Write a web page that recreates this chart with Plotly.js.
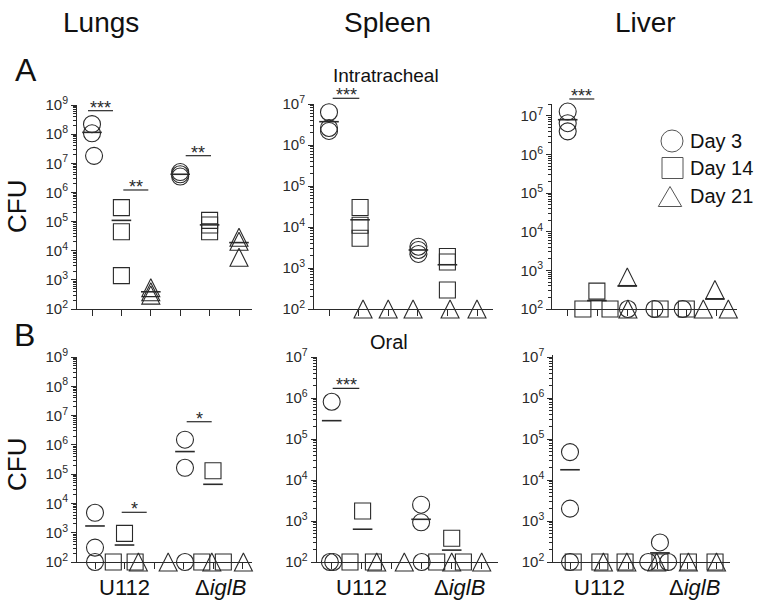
<!DOCTYPE html>
<html><head><meta charset="utf-8">
<script src="https://cdn.plot.ly/plotly-3.0.1.min.js"></script>
<style>html,body{margin:0;padding:0;background:#fff}#chart{width:758px;height:603px}</style>
</head><body><div id="chart"></div>
<script>
// ================= DATA (CFU per animal; group positions 1..6 =
// U112 D3, U112 D14, U112 D21, ΔiglB D3, ΔiglB D14, ΔiglB D21, with jitter) =================
const dayNames = ['Day 3', 'Day 14', 'Day 21'];
const strainLabels = ['U112', 'Δ<i>iglB</i>'];
const organNames = ['Lungs', 'Spleen', 'Liver'];
const routeNames = ['Intratracheal', 'Oral'];
const exponentsLungs = [2, 3, 4, 5, 6, 7, 8, 9];
const exponentsOther = [2, 3, 4, 5, 6, 7];

// A — Intratracheal — Lungs
const aLungsD3Pos = [1, 1, 1.07, 4, 4, 4];
const aLungsD3Cfu = [2.2e8, 1.07e8, 1.8e7, 5e6, 4.2e6, 3.5e6];
const aLungsD14Pos = [2, 2, 2, 5, 5, 5];
const aLungsD14Cfu = [3e5, 4.5e4, 1.4e3, 1.1e5, 7.6e4, 4.5e4];
const aLungsD21Pos = [3, 3, 3, 6, 6, 6];
const aLungsD21Cfu = [5.4e2, 3.9e2, 3e2, 2.9e4, 2.1e4, 6e3];
const aLungsMeanPos = [1, 2, 3, 4, 5, 6];
const aLungsMeanCfu = [1.15e8, 1.1e5, 3.9e2, 4.2e6, 7.7e4, 1.9e4];

// A — Intratracheal — Spleen
const aSpleenD3Pos = [1, 1, 1, 4.02, 4.02, 4.02];
const aSpleenD3Cfu = [6.3e6, 2.6e6, 2.2e6, 3.3e3, 2.75e3, 2.2e3];
const aSpleenD14Pos = [2.05, 2.05, 2.05, 5, 5, 5];
const aSpleenD14Cfu = [3e4, 1.1e4, 5.3e3, 1.9e3, 1.4e3, 2.9e2];
const aSpleenD21Pos = [2.15, 3, 3.84, 5.09, 6];
const aSpleenD21Cfu = [100, 100, 100, 100, 100];
const aSpleenMeanPos = [1, 2.05, 4.02, 5];
const aSpleenMeanCfu = [3.7e6, 1.5e4, 2.75e3, 1.2e3];

// A — Intratracheal — Liver
const aLiverD3Pos = [1, 1, 1, 3.02, 3.91, 4.86];
const aLiverD3Cfu = [1.3e7, 6.5e6, 4e6, 100, 100, 100];
const aLiverD14Pos = [1.51, 1.98, 2.42, 4.1, 4.98];
const aLiverD14Cfu = [100, 2.9e2, 100, 100, 100];
const aLiverD21Pos = [3, 3.02, 5.55, 5.94, 6.39];
const aLiverD21Cfu = [6.7e2, 100, 100, 3.2e2, 100];
const aLiverMeanPos = [1, 1.98, 3, 5.94];
const aLiverMeanCfu = [8e6, 1.65e2, 4e2, 1.8e2];

// B — Oral — Lungs
const bLungsD3Pos = [1, 1, 1, 4.05, 4.05, 4.05];
const bLungsD3Cfu = [4.8e3, 3.1e2, 100, 1.5e6, 1.65e5, 100];
const bLungsD14Pos = [2, 1.62, 2.36, 5, 4.62, 5.35];
const bLungsD14Cfu = [9.5e2, 100, 100, 1.3e5, 100, 100];
const bLungsD21Pos = [2.47, 3.48, 4.96, 6.03];
const bLungsD21Cfu = [100, 100, 100, 100];
const bLungsMeanPos = [1, 2, 4.05, 5];
const bLungsMeanCfu = [1.7e3, 3.8e2, 5.9e5, 4.5e4];

// B — Oral — Spleen
const bSpleenD3Pos = [1, 0.94, 1.05, 3.98, 3.98, 4];
const bSpleenD3Cfu = [8.1e5, 100, 100, 2.5e3, 9.3e2, 100];
const bSpleenD14Pos = [2.03, 1.61, 2.39, 5, 4.5, 5.39];
const bSpleenD14Cfu = [1.75e3, 100, 100, 3.8e2, 100, 100];
const bSpleenD21Pos = [2.5, 3.42, 5, 6];
const bSpleenD21Cfu = [100, 100, 100, 100];
const bSpleenMeanPos = [1, 2.03, 3.98, 5];
const bSpleenMeanCfu = [2.8e5, 6.3e2, 1.1e3, 1.95e2];

// B — Oral — Liver
const bLiverD3Pos = [1, 1, 1, 4.07, 3.67, 4.35];
const bLiverD3Cfu = [4.8e4, 2e3, 100, 3e2, 100, 100];
const bLiverD14Pos = [1.11, 2.02, 2.88, 4.07, 5.04, 5.95];
const bLiverD14Cfu = [100, 100, 100, 100, 100, 100];
const bLiverD21Pos = [2.14, 2.94, 3.96, 5.04, 6];
const bLiverD21Cfu = [100, 100, 100, 100, 100];
const bLiverMeanPos = [1, 4.07];
const bLiverMeanCfu = [1.78e4, 1.67e2];

// significance labels per panel
const aLungsStars = ['***', '**', '**'];
const aSpleenStars = ['***'];
const aLiverStars = ['***'];
const bLungsStars = ['*', '*'];
const bSpleenStars = ['***'];

// ================= LAYOUT HELPERS =================
const W = 758, H = 603;
const INK = '#2a2a2a';
const FONT = 'Liberation Sans, Arial, sans-serif';
const NARROW = 'Liberation Sans Narrow, Arial Narrow, Liberation Sans, sans-serif';
const px2x = p => p / W;
const px2y = p => 1 - p / H;

const panels = [
  {xpx: [77, 252], ypx: [105, 309], g0: 92, gs: 29.4, yr: [2, 9], exps: exponentsLungs,
   d3: [aLungsD3Pos, aLungsD3Cfu], d14: [aLungsD14Pos, aLungsD14Cfu], d21: [aLungsD21Pos, aLungsD21Cfu], mean: [aLungsMeanPos, aLungsMeanCfu],
   brackets: [[0.864, 1.714, 8.805], [2.065, 2.915, 6.084], [4.187, 5.048, 7.261]], stars: aLungsStars, labels: false},
  {xpx: [314, 493], ypx: [104, 309], g0: 329, gs: 29.6, yr: [2, 7], exps: exponentsOther,
   d3: [aSpleenD3Pos, aSpleenD3Cfu], d14: [aSpleenD14Pos, aSpleenD14Cfu], d21: [aSpleenD21Pos, aSpleenD21Cfu], mean: [aSpleenMeanPos, aSpleenMeanCfu],
   brackets: [[1.125, 2.024, 7.139]], stars: aSpleenStars, labels: false},
  {xpx: [552, 737], ypx: [104, 309], g0: 567.7, gs: 29.8, yr: [2, 7.31], exps: exponentsOther,
   d3: [aLiverD3Pos, aLiverD3Cfu], d14: [aLiverD14Pos, aLiverD14Cfu], d21: [aLiverD21Pos, aLiverD21Cfu], mean: [aLiverMeanPos, aLiverMeanCfu],
   brackets: [[1.054, 1.893, 7.44]], stars: aLiverStars, labels: false},
  {xpx: [77, 252], ypx: [357, 562], g0: 95, gs: 29.5, yr: [2, 9], exps: exponentsLungs,
   d3: [bLungsD3Pos, bLungsD3Cfu], d14: [bLungsD14Pos, bLungsD14Cfu], d21: [bLungsD21Pos, bLungsD21Cfu], mean: [bLungsMeanPos, bLungsMeanCfu],
   brackets: [[1.905, 2.753, 3.697], [4.108, 4.956, 6.79]], stars: bLungsStars, labels: true},
  {xpx: [316.7, 498], ypx: [357, 562], g0: 331.7, gs: 30, yr: [2, 7], exps: exponentsOther,
   d3: [bSpleenD3Pos, bSpleenD3Cfu], d14: [bSpleenD14Pos, bSpleenD14Cfu], d21: [bSpleenD21Pos, bSpleenD21Cfu], mean: [bSpleenMeanPos, bSpleenMeanCfu],
   brackets: [[1.033, 1.92, 6.237]], stars: bSpleenStars, labels: true},
  {xpx: [553.3, 730], ypx: [355, 562], g0: 570, gs: 29.3, yr: [2, 7.05], exps: exponentsOther,
   d3: [bLiverD3Pos, bLiverD3Cfu], d14: [bLiverD14Pos, bLiverD14Cfu], d21: [bLiverD21Pos, bLiverD21Cfu], mean: [bLiverMeanPos, bLiverMeanCfu],
   brackets: [], stars: [], labels: true}
];

const traces = [];
const layout = {
  width: W, height: H, margin: {l: 0, r: 0, t: 0, b: 0},
  paper_bgcolor: '#fff', plot_bgcolor: 'rgba(0,0,0,0)',
  showlegend: false, font: {family: FONT, color: INK},
  shapes: [], annotations: []
};

const hollow = 'rgba(0,0,0,0)';
const mk = (symbol, size, extra) => Object.assign({symbol: symbol, size: size, color: hollow,
  line: {color: INK, width: 1.1}}, extra || {});

panels.forEach((p, i) => {
  const n = i + 1, sfx = n === 1 ? '' : String(n);
  const xa = 'x' + sfx, ya = 'y' + sfx;
  const xr = [1 - (p.g0 - p.xpx[0]) / p.gs, 1 + (p.xpx[1] - p.g0) / p.gs];
  const yDom = [px2y(p.ypx[1]), px2y(p.ypx[0])];
  const minorVals = [];
  for (let e = Math.floor(p.yr[0]); e < Math.ceil(p.yr[1]); e++)
    for (let m = 2; m <= 9; m++) if (Math.log10(m * Math.pow(10, e)) <= p.yr[1]) minorVals.push(m * Math.pow(10, e));
  layout['xaxis' + sfx] = {
    domain: [px2x(p.xpx[0]), px2x(p.xpx[1])], range: xr, anchor: ya,
    showgrid: false, zeroline: false, showline: true, linecolor: INK, linewidth: 1,
    tickvals: [1, 2, 3, 4, 5, 6], ticks: 'outside', ticklen: 6, tickcolor: INK, tickwidth: 1,
    showticklabels: false, fixedrange: true
  };
  layout['yaxis' + sfx] = {
    type: 'log', domain: yDom, range: p.yr, anchor: xa,
    showgrid: false, zeroline: false, showline: true, linecolor: INK, linewidth: 1,
    tickvals: p.exps.map(e => Math.pow(10, e)),
    ticktext: p.exps.map(e => '10<sup>' + e + '</sup>'),
    ticks: 'outside', ticklen: 5, tickcolor: INK, tickwidth: 1,
    tickfont: {family: FONT, size: 15, color: INK},
    minor: {tickvals: minorVals, ticks: 'outside', ticklen: 3, tickcolor: INK, tickwidth: 1, showgrid: false},
    fixedrange: true
  };
  const common = {type: 'scatter', mode: 'markers', xaxis: xa, yaxis: ya, cliponaxis: false, hoverinfo: 'skip'};
  traces.push(Object.assign({}, common, {name: dayNames[0], x: p.d3[0], y: p.d3[1], marker: mk('circle', 17)}));
  traces.push(Object.assign({}, common, {name: dayNames[1], x: p.d14[0], y: p.d14[1], marker: mk('square', 16)}));
  traces.push(Object.assign({}, common, {name: dayNames[2], x: p.d21[0], y: p.d21[1],
    marker: mk('arrow-down', 18, {angle: 180, standoff: 9})}));
  traces.push(Object.assign({}, common, {name: 'mean', x: p.mean[0], y: p.mean[1],
    marker: {symbol: 'line-ew', size: 14, color: INK, line: {color: INK, width: 1.6}}}));

  // significance brackets (x in group units, y in log10 CFU)
  p.brackets.forEach((b, k) => {
    const yPaper = yDom[0] + (b[2] - p.yr[0]) / (p.yr[1] - p.yr[0]) * (yDom[1] - yDom[0]);
    layout.shapes.push({type: 'line', xref: xa, yref: 'paper', x0: b[0], x1: b[1], y0: yPaper, y1: yPaper,
      line: {color: INK, width: 1.2}});
    layout.annotations.push({xref: xa, yref: 'paper', x: (b[0] + b[1]) / 2, y: yPaper, yshift: 3,
      text: p.stars[k], showarrow: false, xanchor: 'center', yanchor: 'middle',
      font: {family: FONT, size: 18, color: INK}});
  });
  if (p.labels) {
    [2, 5.25].forEach((gx, k) => layout.annotations.push({xref: xa, yref: 'paper', x: gx, y: px2y(587),
      text: strainLabels[k], showarrow: false, xanchor: 'center', yanchor: 'middle',
      font: {family: FONT, size: 22, color: '#111'}}));
  }
});

// titles and panel letters
const ann = (x, y, text, size, family, extra) => layout.annotations.push(Object.assign({
  xref: 'paper', yref: 'paper', x: px2x(x), y: px2y(y), text: text, showarrow: false,
  xanchor: 'center', yanchor: 'middle', font: {family: family, size: size, color: '#111'}}, extra || {}));
ann(101, 22, organNames[0], 28, NARROW);
ann(387, 22, organNames[1], 28, NARROW);
ann(645, 22, organNames[2], 28, NARROW);
ann(26, 70, 'A', 32, FONT);
ann(24, 335, 'B', 32, FONT);
ann(386, 75, routeNames[0], 19, NARROW);
ann(389, 342, routeNames[1], 20, FONT);
ann(17, 207, 'CFU', 26, FONT, {textangle: -90});
ann(17, 465, 'CFU', 26, FONT, {textangle: -90});

// legend (drawn as shapes + text)
const LG = '#555';
layout.shapes.push({type: 'circle', xref: 'paper', yref: 'paper', x0: px2x(661), x1: px2x(683), y0: px2y(152), y1: px2y(130), line: {color: LG, width: 1}});
layout.shapes.push({type: 'rect', xref: 'paper', yref: 'paper', x0: px2x(662), x1: px2x(683), y0: px2y(178.5), y1: px2y(157.5), line: {color: LG, width: 1}});
layout.shapes.push({type: 'path', xref: 'paper', yref: 'paper',
  path: 'M ' + px2x(658.3) + ' ' + px2y(206.5) + ' L ' + px2x(681.7) + ' ' + px2y(206.5) + ' L ' + px2x(670) + ' ' + px2y(186.5) + ' Z',
  line: {color: LG, width: 1}});
[141, 168, 196].forEach((y, k) => ann(688, y, dayNames[k], 20, FONT, {xanchor: 'left', font: {family: FONT, size: 20, color: '#111'}}));

Plotly.newPlot('chart', traces, layout, {staticPlot: true, displayModeBar: false});
</script></body></html>
